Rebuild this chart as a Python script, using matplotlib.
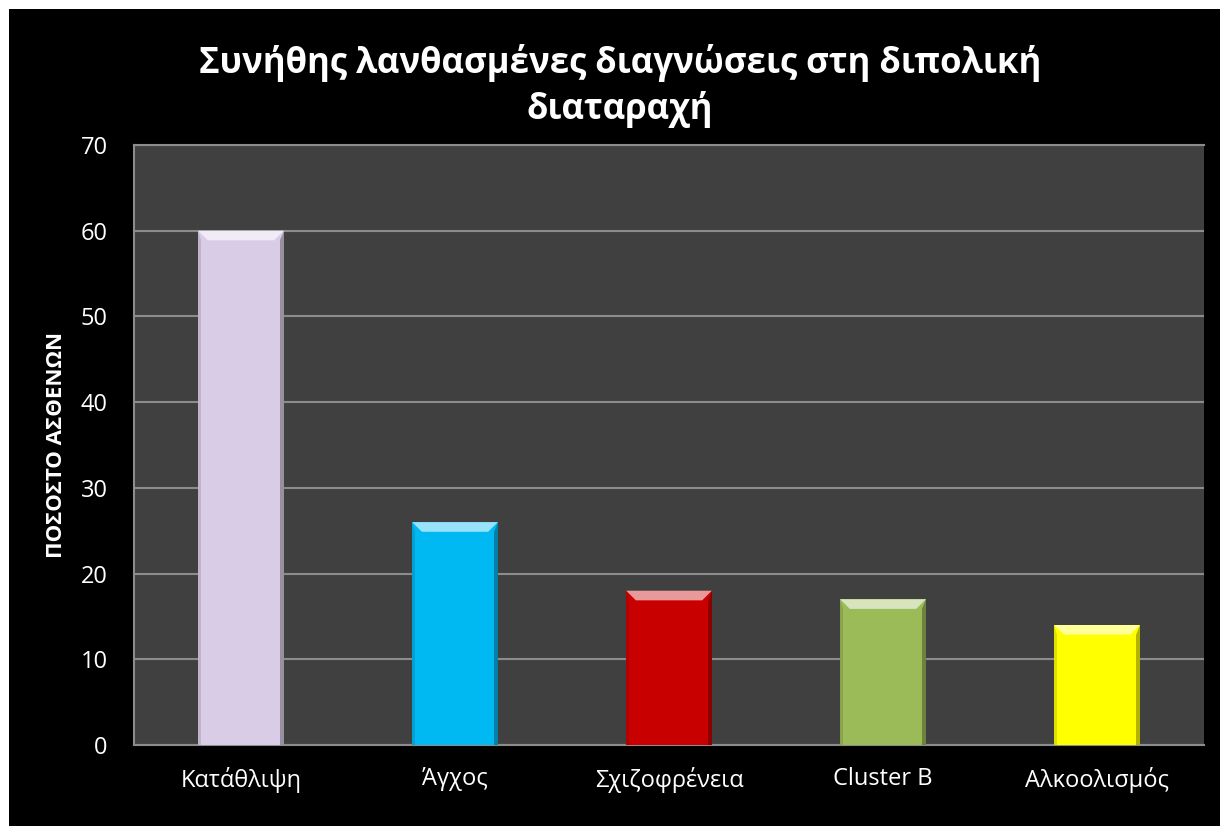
import matplotlib.pyplot as plt
import matplotlib.colors as mcolors
from matplotlib.patches import Polygon, Rectangle
import numpy as np

# Data
categories = ["Κατάθλιψη", "Άγχος", "Σχιζοφρένεια", "Cluster B", "Αλκοολισμός"]
values = [60, 26, 18, 17, 14]
colors = ["#D9CCE6", "#00B8F2", "#C80000", "#9BBB59", "#FFFF00"]
y_ticks = [0, 10, 20, 30, 40, 50, 60, 70]

plt.rcParams['font.family'] = ['Open Sans', 'Noto Sans', 'DejaVu Sans']

fig = plt.figure(figsize=(12.2, 8.26), dpi=100)
fig.patch.set_facecolor("black")
# thin white strip at top and left like the original
fig.patches.append(Rectangle((0, 0), 9 / 1220, 1, transform=fig.transFigure,
                             facecolor="white", edgecolor="none", zorder=10))
fig.patches.append(Rectangle((0, 1 - 9 / 826), 1, 9 / 826, transform=fig.transFigure,
                             facecolor="white", edgecolor="none", zorder=10))

ax = fig.add_axes([134 / 1220, 1 - 745 / 826, 1070 / 1220, 600 / 826])
ax.set_facecolor("#404040")

x = np.arange(len(categories))
bars = ax.bar(x, values, width=0.4, color=colors, zorder=3)

# simple bevel: light strip on top, darker sides
for b, c in zip(bars, colors):
    x0, w, h = b.get_x(), b.get_width(), b.get_height()
    rgb = np.array(mcolors.to_rgb(c))
    light = np.clip(rgb + (1 - rgb) * 0.6, 0, 1)
    dark = rgb * 0.7
    d = 0.045  # bevel width in data-x units (~10 px)
    dy = d * 214 / (600 / 70)  # same size in y units
    dy = min(dy, h)
    ax.add_patch(Polygon([[x0, h], [x0 + w, h], [x0 + w - d, h - dy], [x0 + d, h - dy]],
                         closed=True, facecolor=light, edgecolor="none", zorder=4))
    ax.add_patch(Polygon([[x0 + w, h], [x0 + w, 0], [x0 + w - d * 0.4, 0], [x0 + w - d * 0.4, h - dy]],
                         closed=True, facecolor=dark, edgecolor="none", zorder=4))
    ax.add_patch(Polygon([[x0, h], [x0, 0], [x0 + d * 0.3, 0], [x0 + d * 0.3, h - dy]],
                         closed=True, facecolor=rgb * 0.88, edgecolor="none", zorder=4))

ax.set_xlim(-0.5, len(categories) - 0.5)
ax.set_ylim(0, 70)
ax.set_yticks(y_ticks)
ax.set_xticks(x)
ax.set_xticklabels(categories)
ax.tick_params(colors="white", labelsize=17, length=0)
ax.tick_params(axis="y", pad=19)
ax.tick_params(axis="x", pad=16)
ax.yaxis.grid(True, color="#8C8C8C", linewidth=1.5, zorder=1)
ax.set_axisbelow(True)

for s in ["left", "top", "bottom"]:
    ax.spines[s].set_color("#8C8C8C")
    ax.spines[s].set_linewidth(1.5)
ax.spines["right"].set_visible(False)

ax.set_ylabel("ΠΟΣΟΣΤΟ ΑΣΘΕΝΩΝ", color="white", fontsize=16, fontweight="bold", labelpad=10)

fig.text(620 / 1220, 1 - 86 / 826, "Συνήθης λανθασμένες διαγνώσεις στη διπολική\nδιαταραχή",
         ha="center", va="center", color="white", fontsize=25, fontweight="bold",
         linespacing=1.3)

fig.savefig("out.png", dpi=100, facecolor=fig.get_facecolor())
